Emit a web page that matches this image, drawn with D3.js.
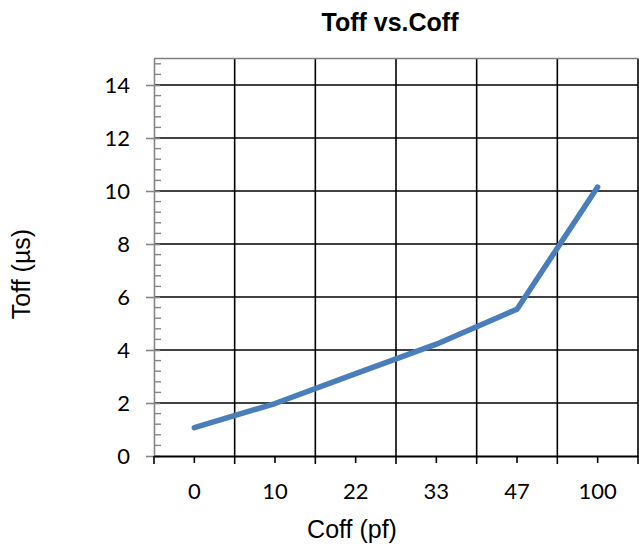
<!DOCTYPE html>
<html>
<head>
<meta charset="utf-8">
<script src="https://cdn.jsdelivr.net/npm/d3@7"></script>
<style>
  html, body { margin: 0; padding: 0; background: #fff; }
  svg { display: block; }
</style>
</head>
<body>
<svg id="chart" width="639" height="551"></svg>
<script>
const categories = ["0", "10", "22", "33", "47", "100"];
const toffValues = [1.07, 1.98, 3.11, 4.22, 5.54, 10.15];
const yTickValues = [0, 2, 4, 6, 8, 10, 12, 14];
const chartTitle = "Toff vs.Coff";
const xTitle = "Coff (pf)";
const yTitle = "Toff (µs)";

(function () {
const svg = d3.select("#chart");
const pLeft = 154, pRight = 638, pTop = 58.5, pBottom = 456;

const x = d3.scaleBand().domain(categories).range([pLeft, pRight]).padding(0);
const y = d3.scaleLinear().domain([0, 15]).range([pBottom, pTop]);

const tickFont = "Lato, 'Open Sans', sans-serif";
const labelFont = "'Liberation Sans', Arial, sans-serif";

// horizontal gridlines
svg.append("g").selectAll("line")
  .data(yTickValues.filter(v => v > 0))
  .join("line")
  .attr("x1", pLeft).attr("x2", pRight)
  .attr("y1", d => y(d)).attr("y2", d => y(d))
  .attr("stroke", "#000").attr("stroke-width", 1.6);

// vertical gridlines at category boundaries
const boundaries = categories.map(c => x(c) + x.bandwidth());
svg.append("g").selectAll("line")
  .data(boundaries)
  .join("line")
  .attr("x1", d => d).attr("x2", d => d)
  .attr("y1", pTop).attr("y2", pBottom)
  .attr("stroke", "#000").attr("stroke-width", 1.6);

// top border
svg.append("line")
  .attr("x1", pLeft).attr("x2", pRight)
  .attr("y1", pTop).attr("y2", pTop)
  .attr("stroke", "#808080").attr("stroke-width", 1.6);

// y axis
const minorTicks = d3.range(0, 15.01, 0.4).filter(v => Math.abs(v / 2 - Math.round(v / 2)) > 1e-6);
const yAxisG = svg.append("g").attr("transform", `translate(${pLeft},0)`);
yAxisG.call(d3.axisLeft(y).tickValues(yTickValues).tickSize(7).tickSizeOuter(0).tickFormat(d3.format("d")));
yAxisG.select(".domain").attr("stroke", "#868686").attr("stroke-width", 1.6);
yAxisG.selectAll(".tick line").attr("stroke", "#868686").attr("stroke-width", 1.6).attr("x2", -8).attr("x1", 6);
yAxisG.selectAll(".tick text")
  .attr("x", -24)
  .attr("font-family", tickFont).attr("font-size", 22).attr("fill", "#000");
yAxisG.append("g").selectAll("line")
  .data(minorTicks)
  .join("line")
  .attr("x1", 0).attr("x2", 7)
  .attr("y1", d => y(d)).attr("y2", d => y(d))
  .attr("stroke", "#868686").attr("stroke-width", 1.4);

// x axis
const xAxisG = svg.append("g").attr("transform", `translate(0,${pBottom})`);
xAxisG.call(d3.axisBottom(x).tickSize(6).tickSizeOuter(0));
xAxisG.select(".domain").attr("stroke", "#000").attr("stroke-width", 1.8);
xAxisG.selectAll(".tick line").attr("stroke", "#000").attr("stroke-width", 1.6).attr("y1", 1).attr("y2", 7);
xAxisG.selectAll(".tick text")
  .attr("y", 27)
  .attr("font-family", tickFont).attr("font-size", 22).attr("fill", "#000");
// major ticks at boundaries
xAxisG.append("g").selectAll("line")
  .data([pLeft].concat(boundaries))
  .join("line")
  .attr("x1", d => d).attr("x2", d => d)
  .attr("y1", 0).attr("y2", 8)
  .attr("stroke", "#000").attr("stroke-width", 1.6);

// data line
const line = d3.line()
  .x((d, i) => x(categories[i]) + x.bandwidth() / 2)
  .y(d => y(d));
svg.append("path")
  .datum(toffValues)
  .attr("d", line)
  .attr("fill", "none")
  .attr("stroke", "#4A7EBB")
  .attr("stroke-width", 5.5)
  .attr("stroke-linecap", "round")
  .attr("stroke-linejoin", "round");

// titles
svg.append("text")
  .attr("x", 390).attr("y", 31)
  .attr("text-anchor", "middle")
  .attr("font-family", labelFont).attr("font-weight", "bold").attr("font-size", 25)
  .text(chartTitle);

svg.append("text")
  .attr("x", 352).attr("y", 538)
  .attr("text-anchor", "middle")
  .attr("font-family", labelFont).attr("font-size", 25)
  .text(xTitle);

svg.append("text")
  .attr("transform", "translate(30,274) rotate(-90)")
  .attr("text-anchor", "middle")
  .attr("font-family", labelFont).attr("font-size", 25)
  .text(yTitle);
})();
</script>
</body>
</html>
